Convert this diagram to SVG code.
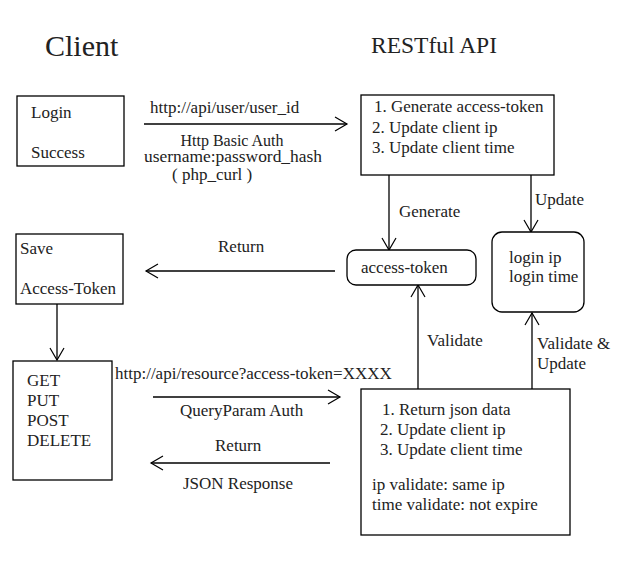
<svg xmlns="http://www.w3.org/2000/svg" width="627" height="562" viewBox="0 0 627 562">
<style>
text{font-family:"Liberation Serif","DejaVu Serif",serif;font-size:17px;fill:#222}
.sm{font-size:16px}
.box{fill:#fff;stroke:#000;stroke-width:1.3}
.ln{fill:none;stroke:#000;stroke-width:1.3}
.ah{fill:none;stroke:#000;stroke-width:1.2}
</style>
<defs>
<marker id="arr" markerUnits="userSpaceOnUse" markerWidth="16" markerHeight="18" refX="13" refY="8" orient="auto">
<path class="ah" d="M1,1 L13,8 L1,15"/>
</marker>
</defs>
<rect width="627" height="562" fill="#fff"/>
<text x="45" y="56" style="font-size:30px">Client</text>
<text x="371" y="53" style="font-size:23.5px">RESTful API</text>

<g id="connectors">
<line class="ln" x1="144" y1="124" x2="347" y2="124" marker-end="url(#arr)"/>
<line class="ln" x1="389" y1="175" x2="389" y2="250" marker-end="url(#arr)"/>
<line class="ln" x1="531" y1="175" x2="531" y2="232" marker-end="url(#arr)"/>
<line class="ln" x1="335" y1="271" x2="146" y2="271" marker-end="url(#arr)"/>
<line class="ln" x1="57" y1="304" x2="57" y2="360" marker-end="url(#arr)"/>
<line class="ln" x1="153" y1="397" x2="340" y2="397" marker-end="url(#arr)"/>
<line class="ln" x1="330" y1="463" x2="151" y2="463" marker-end="url(#arr)"/>
<line class="ln" x1="418" y1="389" x2="418" y2="285" marker-end="url(#arr)"/>
<line class="ln" x1="532" y1="389" x2="532" y2="313" marker-end="url(#arr)"/>
<text x="150" y="113">http://api/user/user_id</text>
<text class="sm" x="232" y="146" text-anchor="middle">Http Basic Auth</text>
<text class="sm" x="144" y="162" textLength="178" lengthAdjust="spacingAndGlyphs">username:password_hash</text>
<text x="172" y="180">( php_curl )</text>
<text x="399" y="217">Generate</text>
<text x="535" y="205">Update</text>
<text x="218" y="252">Return</text>
<text x="427" y="346">Validate</text>
<text x="537" y="349">Validate &amp;</text>
<text x="537" y="369">Update</text>
<text x="115" y="379">http://api/resource?access-token=XXXX</text>
<text x="180" y="416">QueryParam Auth</text>
<text x="215" y="451">Return</text>
<text x="183" y="489">JSON Response</text>
</g>

<g id="login">
<rect class="box" x="17" y="96" width="107" height="70"/>
<text x="31" y="118">Login</text>
<text x="31" y="158">Success</text>
</g>

<g id="generate">
<rect class="box" x="361" y="95" width="193" height="80"/>
<text x="374" y="112">1. Generate access-token</text>
<text x="372" y="133">2. Update client ip</text>
<text x="372" y="153">3. Update client time</text>
</g>

<g id="access-token">
<rect class="box" x="347" y="250" width="129" height="35" rx="9"/>
<text x="361" y="273">access-token</text>
</g>

<g id="login-info">
<rect class="box" x="492" y="232" width="92" height="80" rx="10"/>
<text x="509" y="263">login ip</text>
<text x="509" y="282">login time</text>
</g>

<g id="save">
<rect class="box" x="16" y="234" width="107" height="70"/>
<text x="20" y="254">Save</text>
<text x="20" y="294">Access-Token</text>
</g>

<g id="methods">
<rect class="box" x="13" y="361" width="99" height="119"/>
<text x="27" y="386">GET</text>
<text x="27" y="406">PUT</text>
<text x="27" y="426">POST</text>
<text x="27" y="446">DELETE</text>
</g>

<g id="resource">
<rect class="box" x="361" y="389" width="209" height="146"/>
<text x="382" y="415">1. Return json data</text>
<text x="380" y="435">2. Update client ip</text>
<text x="380" y="455">3. Update client time</text>
<text x="372" y="490">ip validate: same ip</text>
<text x="372" y="510">time validate: not expire</text>
</g>
</svg>
